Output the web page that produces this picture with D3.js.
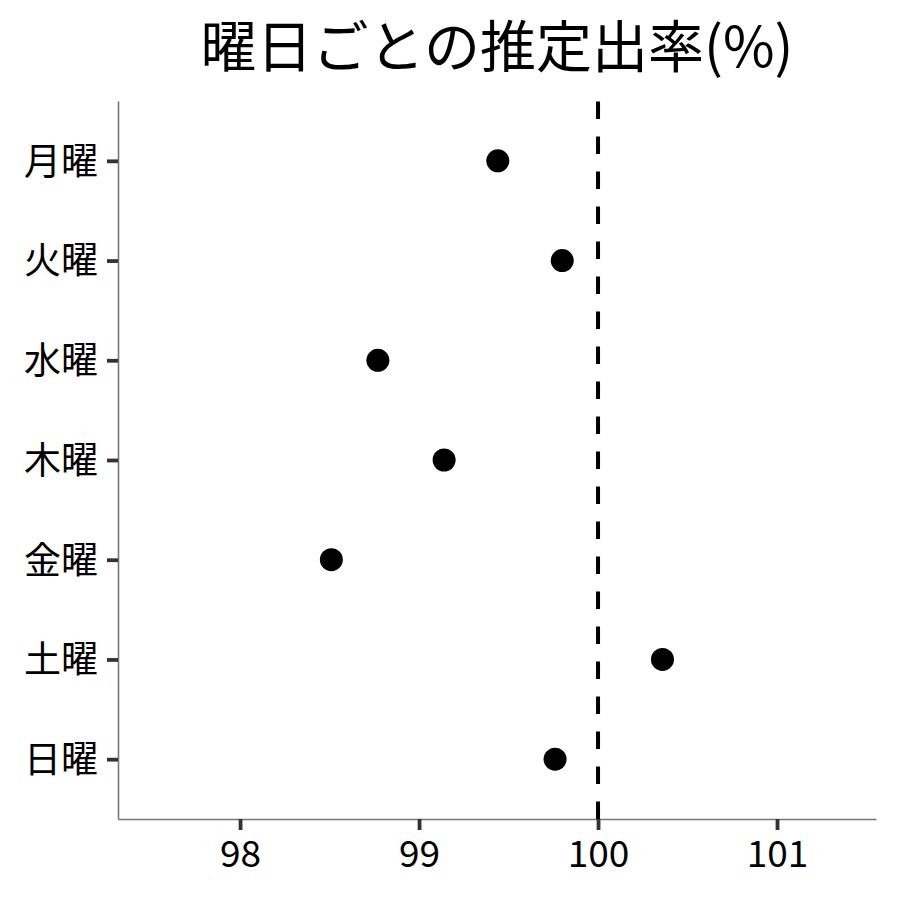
<!DOCTYPE html>
<html><head><meta charset="utf-8">
<script src="https://cdn.jsdelivr.net/npm/d3@7"></script>
<style>body{margin:0;background:#fff}</style>
</head><body>
<script>
const days = ["月曜","火曜","水曜","木曜","金曜","土曜","日曜"];
const rates = [99.44, 99.80, 98.77, 99.14, 98.51, 100.36, 99.76];
const xTicks = [98, 99, 100, 101];
const refValue = 100;
const titleText = "曜日ごとの推定出率(%)";

const W = 900, H = 900;
const m = {left:118, right:24, top:101, bottom:81};
const font = "'Noto Sans CJK JP','Noto Sans',sans-serif";

const svg = d3.select("body").append("svg").attr("width",W).attr("height",H);

const x = d3.scaleLinear().domain([97.318, 101.553]).range([m.left, W-m.right]);
const y = d3.scalePoint().domain(days).range([m.top, H-m.bottom]).padding(0.6);

// axes
const xAxis = svg.append("g").attr("transform",`translate(0,${H-m.bottom})`)
  .call(d3.axisBottom(x).tickValues(xTicks).tickSizeInner(11).tickSizeOuter(0).tickPadding(11).tickFormat(d3.format("d")));
const yAxis = svg.append("g").attr("transform",`translate(${m.left},0)`)
  .call(d3.axisLeft(y).tickSizeInner(11).tickSizeOuter(0).tickPadding(9));
[xAxis,yAxis].forEach(g=>{
  g.select(".domain").attr("stroke","#777").attr("stroke-width",1.6);
  g.selectAll(".tick line").attr("stroke","#333").attr("stroke-width",3.8);
  g.selectAll(".tick text").attr("fill","#000").style("font-family",font);
});
xAxis.selectAll(".tick text").style("font-size","37px");
yAxis.selectAll(".tick text").style("font-size","37px").attr("dy","0.36em");

// reference line
svg.append("line")
  .attr("x1",x(refValue)).attr("x2",x(refValue))
  .attr("y1",H-m.bottom).attr("y2",m.top)
  .attr("stroke","#000").attr("stroke-width",4).attr("stroke-dasharray","17.5,17.5");

// points
svg.append("g").selectAll("circle").data(days).join("circle")
  .attr("cx",(d,i)=>x(rates[i])).attr("cy",d=>y(d)).attr("r",11.5).attr("fill","#000");

// title
svg.append("text").attr("x",(m.left+W-m.right)/2).attr("y",67)
  .attr("text-anchor","middle").style("font-family",font).style("font-size","56px")
  .attr("fill","#000").text(titleText);
</script>
</body></html>
